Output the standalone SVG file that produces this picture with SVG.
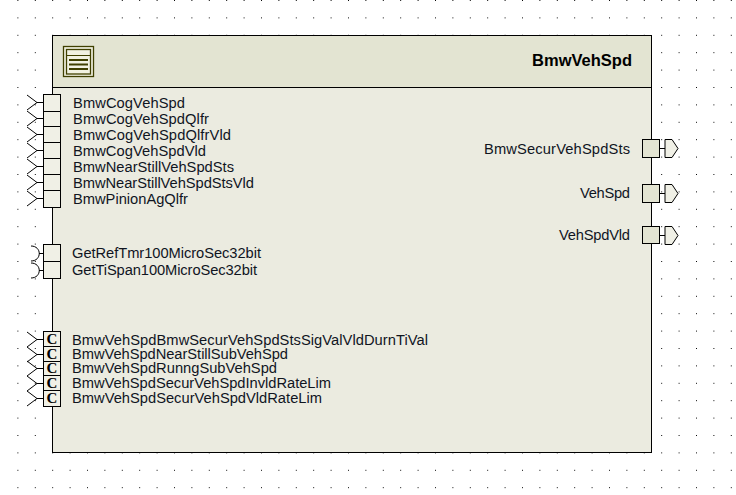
<svg xmlns="http://www.w3.org/2000/svg" width="736" height="495" viewBox="0 0 736 495">
<style>
text{font-family:"Liberation Sans",Arial,sans-serif;font-size:14.7px;fill:#10151f}
.b{fill:#ebebe0;stroke:#000;stroke-width:1}
.h{fill:#e3e4d2;stroke:#000;stroke-width:1}
.p{fill:#f0f0e6;stroke:#000;stroke-width:1}
.o{fill:#e3e4d2;stroke:#000;stroke-width:1}
.l{fill:none;stroke:#000;stroke-width:1}
.e{text-anchor:end}
.c{font-family:"Liberation Serif",serif;font-weight:bold;font-size:15px;fill:#000;text-anchor:middle}
</style>
<defs>
<pattern id="dots" width="17.4" height="17.4" patternUnits="userSpaceOnUse"><rect x="0" y="0" width="1" height="1" fill="#000" shape-rendering="crispEdges"/></pattern>
<g id="req"><path class="l" d="M-13 -7.500L-3 0L-13 7.500M-3 0H3"/></g>
<g id="srv"><path class="l" d="M-9 -7.500C2 -7.500 2 7.500 -9 7.500M-1 0H3"/></g>
<g id="out"><path class="l" d="M0 0H5"/><path d="M5 -9H12L18 0L12 9H5Z" fill="#f0f0e6" stroke="#000"/></g>
</defs>
<rect x="17" y="0" width="719" height="495" fill="url(#dots)"/>
<g id="BmwVehSpd">
<rect class="b" x="52.500" y="35.500" width="599" height="417"/>
<rect class="h" x="52.500" y="35.500" width="599" height="52"/>
<rect x="63.500" y="46.500" width="30" height="30" fill="#f2f2e2" stroke="#404000" stroke-width="1.300"/>
<rect x="66.500" y="49.500" width="24" height="24.500" fill="#f2f2e2" stroke="#404000" stroke-width="1.300"/>
<path d="M69 60H88M69 64.500H88M69 69H88" stroke="#404000" stroke-width="1.800" fill="none"/>
<path d="M67 55.500H90" stroke="#404000" stroke-width="1" fill="none"/>
<text x="632" y="66" class="e" style="font-weight:bold;font-size:16.500px;fill:#000">BmwVehSpd</text>
</g>
<g id="connectors">
<use href="#req" x="40" y="102.500"/><use href="#req" x="40" y="118.500"/><use href="#req" x="40" y="134.500"/><use href="#req" x="40" y="150.500"/><use href="#req" x="40" y="166.500"/><use href="#req" x="40" y="182.500"/><use href="#req" x="40" y="198.500"/>
<use href="#srv" x="40" y="253.500"/><use href="#srv" x="40" y="270.500"/>
<use href="#req" x="40" y="339.500"/><use href="#req" x="40" y="354.500"/><use href="#req" x="40" y="368.500"/><use href="#req" x="40" y="383.500"/><use href="#req" x="40" y="398.500"/>
<use href="#out" x="660" y="148.500"/><use href="#out" x="660" y="193.500"/><use href="#out" x="660" y="235.500"/>
</g>
<g id="ports-left">
<g id="p1"><rect class="p" x="43.500" y="94.500" width="17" height="17"/><text x="73" y="107.500" textLength="112">BmwCogVehSpd</text></g>
<g id="p2"><rect class="p" x="43.500" y="111.500" width="17" height="15"/><text x="73" y="123.500" textLength="136">BmwCogVehSpdQlfr</text></g>
<g id="p3"><rect class="p" x="43.500" y="126.500" width="17" height="16"/><text x="73" y="139.500" textLength="158">BmwCogVehSpdQlfrVld</text></g>
<g id="p4"><rect class="p" x="43.500" y="142.500" width="17" height="16"/><text x="73" y="155.500" textLength="133">BmwCogVehSpdVld</text></g>
<g id="p5"><rect class="p" x="43.500" y="158.500" width="17" height="16"/><text x="73" y="171.500" textLength="161">BmwNearStillVehSpdSts</text></g>
<g id="p6"><rect class="p" x="43.500" y="174.500" width="17" height="16"/><text x="73" y="188" textLength="181">BmwNearStillVehSpdStsVld</text></g>
<g id="p7"><rect class="p" x="43.500" y="190.500" width="17" height="17"/><text x="73" y="203.500" textLength="115">BmwPinionAgQlfr</text></g>
<g id="p8"><rect class="p" x="43.500" y="244.500" width="17" height="17"/><text x="72" y="258" textLength="189">GetRefTmr100MicroSec32bit</text></g>
<g id="p9"><rect class="p" x="43.500" y="261.500" width="17" height="17"/><text x="72" y="275" textLength="185">GetTiSpan100MicroSec32bit</text></g>
<g id="p10"><rect class="p" x="43.500" y="331.500" width="17" height="15"/><text class="c" x="52" y="344">C</text><text x="72" y="345" textLength="356">BmwVehSpdBmwSecurVehSpdStsSigValVldDurnTiVal</text></g>
<g id="p11"><rect class="p" x="43.500" y="346.500" width="17" height="15"/><text class="c" x="52" y="359">C</text><text x="72" y="359" textLength="216">BmwVehSpdNearStillSubVehSpd</text></g>
<g id="p12"><rect class="p" x="43.500" y="361.500" width="17" height="14"/><text class="c" x="52" y="373">C</text><text x="72" y="373" textLength="205">BmwVehSpdRunngSubVehSpd</text></g>
<g id="p13"><rect class="p" x="43.500" y="375.500" width="17" height="15"/><text class="c" x="52" y="388">C</text><text x="72" y="388" textLength="259">BmwVehSpdSecurVehSpdInvldRateLim</text></g>
<g id="p14"><rect class="p" x="43.500" y="390.500" width="17" height="16"/><text class="c" x="52" y="403">C</text><text x="72" y="403" textLength="250">BmwVehSpdSecurVehSpdVldRateLim</text></g>
</g>
<g id="ports-right">
<g id="o1"><rect class="o" x="642.500" y="139.500" width="17" height="18"/><text x="484" y="153.500" textLength="146">BmwSecurVehSpdSts</text></g>
<g id="o2"><rect class="o" x="642.500" y="184.500" width="17" height="18"/><text x="580" y="198" textLength="50">VehSpd</text></g>
<g id="o3"><rect class="o" x="642.500" y="226.500" width="17" height="17"/><text x="559" y="239.500" textLength="71">VehSpdVld</text></g>
</g>
</svg>
